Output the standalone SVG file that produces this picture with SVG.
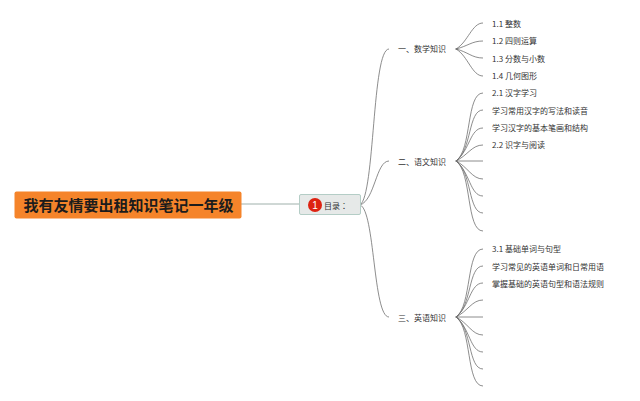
<svg xmlns="http://www.w3.org/2000/svg" width="640" height="401" viewBox="0 0 640 401">
<style>
text{font-family:"Noto Sans CJK SC","Liberation Sans",sans-serif;fill:#333}
.leaf{font-size:8px}
.branch{font-size:8px}
.c path,.c line{fill:none;stroke:#707070;stroke-width:.8}
</style>
<rect width="640" height="401" fill="#fff"/>
<g id="connectors" class="c">
<line x1="241" y1="204" x2="299" y2="204" style="stroke:#9fb0ab;stroke-width:1"/>
<path d="M360 205C375 195 372 49 389 49"/>
<path d="M360 205C375 200 376 161 389 161"/>
<path d="M360 205C375 210 373 317 389 317"/>
<path d="M455 49H458"/>
<path d="M456 49C468 42 472 23 483 23"/>
<path d="M456 49C468 46 472 41 483 41"/>
<path d="M456 49C468 52 472 58 483 58"/>
<path d="M456 49C468 56 472 76 483 76"/>
<path d="M455 161H458"/>
<path d="M456 161C472 150 466 93 483 93"/>
<path d="M456 161C472 150 468 110 483 110"/>
<path d="M456 161C470 150 470 128 483 128"/>
<path d="M456 161C468 155 472 145 483 145"/>
<path d="M456 161H483"/>
<path d="M456 161C468 167 472 179 483 179"/>
<path d="M456 161C470 172 470 196 483 196"/>
<path d="M456 161C472 172 468 213 483 213"/>
<path d="M456 161C472 172 466 231 483 231"/>
<path d="M455 317H458"/>
<path d="M456 317C472 306 466 249 483 249"/>
<path d="M456 317C472 306 468 266 483 266"/>
<path d="M456 317C470 306 470 283 483 283"/>
<path d="M456 317C468 311 472 300 483 300"/>
<path d="M456 317H483"/>
<path d="M456 317C468 323 472 335 483 335"/>
<path d="M456 317C470 328 470 352 483 352"/>
<path d="M456 317C472 328 468 369 483 369"/>
<path d="M456 317C472 328 466 386 483 386"/>
</g>
<g id="root">
<rect x="14.5" y="191.500" width="227" height="27" rx="2" fill="#f5842a"/>
<text x="23.500" y="211" style="font-size:15px;font-weight:700;fill:#1c1c1c">我有友情要出租知识笔记一年级</text>
</g>
<g id="hub">
<rect x="299.500" y="194.500" width="61" height="20" rx="1.500" fill="#e6e9e8" stroke="#b4cdc6"/>
<circle cx="315" cy="205" r="7" fill="#dd2211"/>
<text x="315" y="208.500" text-anchor="middle" style="font-size:10px;fill:#fff;font-family:'Liberation Sans',sans-serif">1</text>
<text x="324" y="208.500" style="font-size:8px;font-family:'Noto Sans CJK TC',sans-serif">目录：</text>
</g>
<g id="b1"><text class="branch" x="398" y="52">一、数学知识</text></g>
<g id="b2"><text class="branch" x="398" y="165">二、语文知识</text></g>
<g id="b3"><text class="branch" x="398" y="321">三、英语知识</text></g>
<g id="l11"><text class="leaf" x="492" y="26.500">1.1 整数</text></g>
<g id="l12"><text class="leaf" x="492" y="44">1.2 四则运算</text></g>
<g id="l13"><text class="leaf" x="492" y="61.500">1.3 分数与小数</text></g>
<g id="l14"><text class="leaf" x="492" y="79">1.4 几何图形</text></g>
<g id="l21"><text class="leaf" x="492" y="96">2.1 汉字学习</text></g>
<g id="l22"><text class="leaf" x="492" y="113.500">学习常用汉字的写法和读音</text></g>
<g id="l23"><text class="leaf" x="492" y="131">学习汉字的基本笔画和结构</text></g>
<g id="l24"><text class="leaf" x="492" y="148">2.2 识字与阅读</text></g>
<g id="l31"><text class="leaf" x="492" y="252">3.1 基础单词与句型</text></g>
<g id="l32"><text class="leaf" x="492" y="269.500">学习常见的英语单词和日常用语</text></g>
<g id="l33"><text class="leaf" x="492" y="287">掌握基础的英语句型和语法规则</text></g>
</svg>
